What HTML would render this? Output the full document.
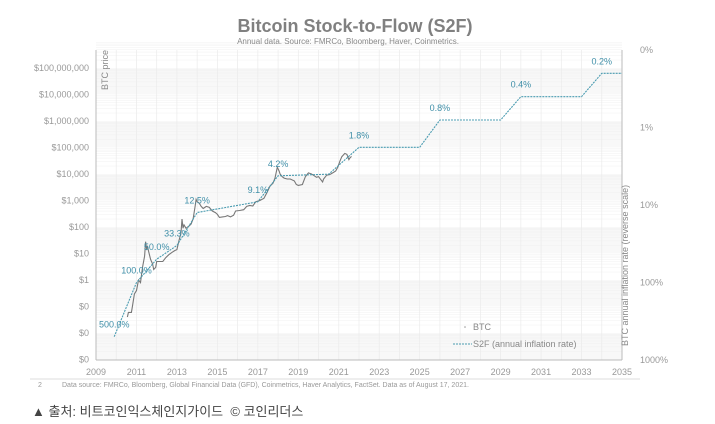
<!DOCTYPE html>
<html><head><meta charset="utf-8">
<style>
body{margin:0;background:#fff;width:715px;height:424px;overflow:hidden;font-family:"Liberation Sans","Noto Sans CJK KR",sans-serif;}
svg{position:absolute;left:0;top:0}
.cap{position:absolute;left:32px;top:401px;font-size:13px;color:#444;}
</style></head><body>
<svg width="715" height="424">
<g id="grid"></g>
<g id="axes"></g>
<g id="series"></g>
<text x="355" y="32" text-anchor="middle" font-size="18" font-weight="bold" fill="#808080">Bitcoin Stock-to-Flow (S2F)</text>
<text x="348" y="44" text-anchor="middle" font-size="8" fill="#888">Annual data.  Source: FMRCo, Bloomberg, Haver, Coinmetrics.</text>
<text transform="translate(108,90) rotate(-90)" font-size="9" fill="#888">BTC price</text>
<text transform="translate(628,346) rotate(-90)" font-size="9" fill="#888">BTC annual inflation rate (reverse scale)</text>
<g>
<circle cx="465" cy="327" r="0.8" fill="#999"/>
<text x="473" y="330" font-size="9" fill="#888">BTC</text>
<line x1="453" y1="344" x2="472" y2="344" stroke="#4a9bb0" stroke-dasharray="2,1"/>
<text x="473" y="347" font-size="9" fill="#888">S2F (annual inflation rate)</text>
</g>
<line x1="30" y1="379" x2="640" y2="379" stroke="#ddd"/>
<text x="38" y="387" font-size="7" fill="#999">2</text>
<text x="62" y="387" font-size="7" fill="#999">Data source: FMRCo, Bloomberg, Global Financial Data (GFD), Coinmetrics, Haver Analytics, FactSet.  Data as of August 17, 2021.</text>
</svg>
<div class="cap">▲ 출처: 비트코인익스체인지가이드 &nbsp;© 코인리더스</div>
<script>
const xTicks=[2009,2011,2013,2015,2017,2019,2021,2023,2025,2027,2029,2031,2033,2035];
const yTickLabels=["$100,000,000","$10,000,000","$1,000,000","$100,000","$10,000","$1,000","$100","$10","$1","$0","$0","$0"];
const yTickExps=[8,7,6,5,4,3,2,1,0,-1,-2,-3];
const rTickLabels=["0%","1%","10%","100%","1000%"];
const rTickVals=[0.1,1,10,100,1000];
const btcYears=[2010.55,2010.6,2010.75,2010.8,2010.9,2011.0,2011.1,2011.2,2011.3,2011.4,2011.45,2011.5,2011.55,2011.6,2011.7,2011.8,2011.85,2011.95,2012.0,2012.15,2012.3,2012.45,2012.6,2012.75,2012.9,2013.0,2013.1,2013.2,2013.25,2013.3,2013.35,2013.45,2013.5,2013.6,2013.7,2013.8,2013.9,2013.95,2014.0,2014.1,2014.2,2014.3,2014.45,2014.6,2014.75,2014.9,2015.0,2015.1,2015.25,2015.4,2015.5,2015.65,2015.8,2015.9,2016.1,2016.3,2016.45,2016.6,2016.75,2016.9,2017.1,2017.3,2017.45,2017.6,2017.75,2017.85,2017.96,2018.05,2018.1,2018.2,2018.3,2018.45,2018.6,2018.8,2018.9,2019.0,2019.2,2019.35,2019.5,2019.65,2019.8,2019.9,2020.0,2020.2,2020.25,2020.4,2020.55,2020.7,2020.85,2020.95,2021.05,2021.15,2021.3,2021.4,2021.5,2021.55,2021.63];
const btcPrices=[0.04,0.06,0.06,0.1,0.3,0.4,1,0.8,3,8,28,15,18,12,6,4,2.5,3,5,5,5,7,9,11,13,14,30,60,200,90,120,90,95,110,130,200,600,1100,900,800,600,500,600,550,400,350,300,230,240,250,270,240,280,400,420,450,600,650,620,900,1000,1200,2000,3500,4500,7000,18000,13000,10000,8000,7000,6500,6500,5500,4000,3700,4000,8000,11000,10000,8500,7500,8000,5000,6500,9000,9500,11000,13000,18000,30000,45000,60000,55000,35000,40000,46000];
const s2fYears=[2009.9,2011,2012,2013,2014,2017,2018,2020.5,2022,2025,2026,2029,2030,2033,2034,2035];
const s2fRates=[500,100,50,33.3,12.5,9.1,4.2,4.0,1.8,1.8,0.8,0.8,0.4,0.4,0.2,0.2];
const labelYears=[2009.9,2011,2012,2013,2014,2017,2018,2022,2026,2030,2034];
const labelTexts=["500.0%","100.0%","50.0%","33.3%","12.5%","9.1%","4.2%","1.8%","0.8%","0.4%","0.2%"];
const labelRates=[500,100,50,33.3,12.5,9.1,4.2,1.8,0.8,0.4,0.2];

const NS="http://www.w3.org/2000/svg";
const X0=96,X1=622,YT=50,YB=360;
const xs=y=>X0+(y-2009)*(X1-X0)/26;
const yp=p=>68+(8-Math.log10(p))*26.5;
const yr=r=>YT+(Math.log10(r)+1)*77.5;
function mk(tag,attrs,parent){const e=document.createElementNS(NS,tag);for(const k in attrs)e.setAttribute(k,attrs[k]);document.getElementById(parent).appendChild(e);return e;}

for(let i=0;i<12;i++){const y=68+i*26.5;
 if(i%2==0){const b=mk('rect',{x:X0,y:y,width:X1-X0,height:26.5,fill:'#f8f8f8'},'grid');}
 for(let m=2;m<10;m++){const l=mk('line',{x1:X0,x2:X1,y1:y-Math.log10(m)*26.5,y2:y-Math.log10(m)*26.5,stroke:'#f0f0f0','stroke-width':0.5},'grid');}
}
for(let yv=2009;yv<=2035;yv++){const l=mk('line',{x1:xs(yv),x2:xs(yv),y1:YT,y2:YB,stroke:'#ebebeb','stroke-width':0.7},'grid');}
let a=mk('line',{x1:X0,x2:X0,y1:YT,y2:YB,stroke:'#bbb'},'axes');
a=mk('line',{x1:X1,x2:X1,y1:YT,y2:YB,stroke:'#bbb'},'axes');
a=mk('line',{x1:X0,x2:X1,y1:YB,y2:YB,stroke:'#bbb'},'axes');
xTicks.forEach(t=>{const e=mk('text',{x:xs(t),y:375,'text-anchor':'middle','font-size':9,fill:'#999'},'axes');e.textContent=t;});
yTickLabels.forEach((t,i)=>{const e=mk('text',{x:89,y:yp(Math.pow(10,yTickExps[i]))+3,'text-anchor':'end','font-size':9,fill:'#999'},'axes');e.textContent=t;});
rTickLabels.forEach((t,i)=>{const e=mk('text',{x:640,y:yr(rTickVals[i])+3,'font-size':9,fill:'#999'},'axes');e.textContent=t;});
let d=btcYears.map((y,i)=>(i?'L':'M')+xs(y).toFixed(1)+','+yp(btcPrices[i]).toFixed(1)).join('');
let p=mk('path',{d:d,fill:'none',stroke:'#777','stroke-width':1.1},'series');
d=s2fYears.map((y,i)=>(i?'L':'M')+xs(y).toFixed(1)+','+yr(s2fRates[i]).toFixed(1)).join('');
p=mk('path',{d:d,fill:'none',stroke:'#4a9bb0','stroke-width':1.1,'stroke-dasharray':'2,1'},'series');
labelTexts.forEach((t,i)=>{const e=mk('text',{x:xs(labelYears[i]),y:yr(labelRates[i])-9,'text-anchor':'middle','font-size':9,fill:'#3f8fa8'},'series');e.textContent=t;});
</script>
</body></html>
